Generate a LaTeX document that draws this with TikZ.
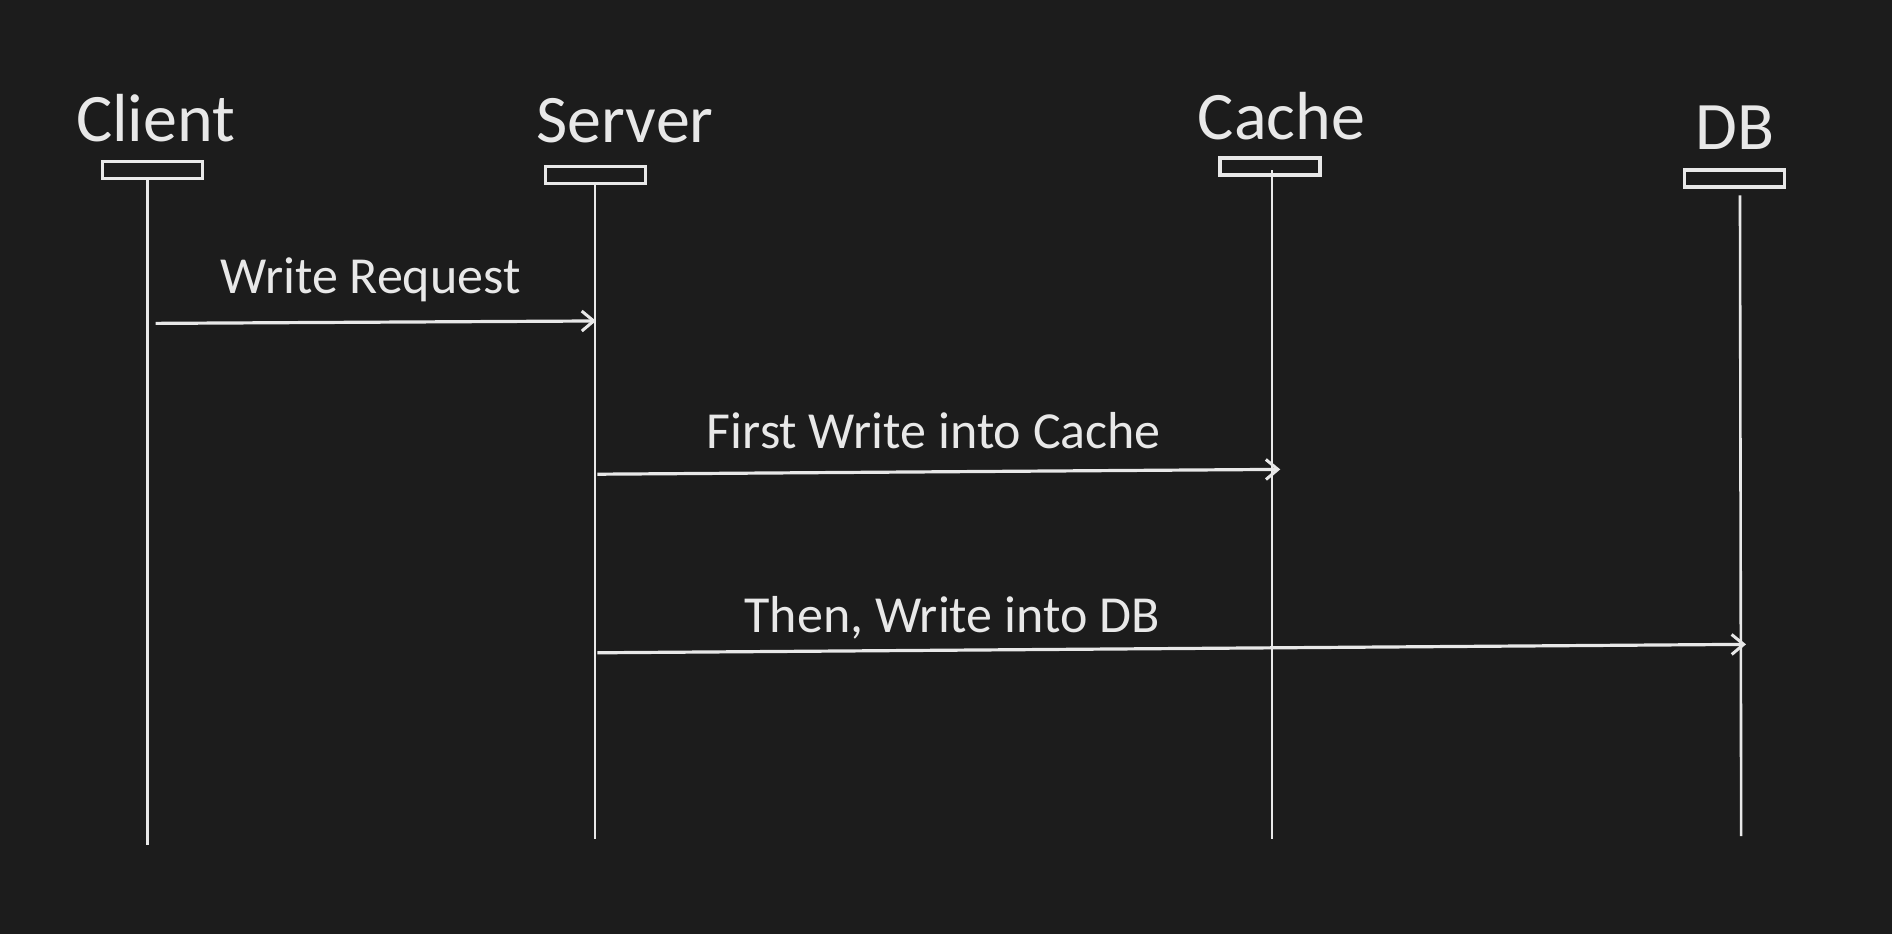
\documentclass[tikz,border=0pt]{standalone}
\usepackage{fontspec}
\setmainfont{Carlito}
\usetikzlibrary{arrows.meta}
\definecolor{bg}{HTML}{1C1C1C}
\definecolor{fg}{HTML}{E8E8E8}
\begin{document}
\begin{tikzpicture}[x=0.6033pt,y=-0.6033pt,
  headlabel/.style={text=fg,anchor=base,inner sep=0pt,font=\fontsize{34}{40}\selectfont},
  msglabel/.style={text=fg,anchor=base,inner sep=0pt,font=\fontsize{26}{32}\selectfont},
  headbox/.style={draw=fg,line width=1.7pt,minimum width=50pt,minimum height=8.5pt,inner sep=0pt},
  lifeline/.style={draw=fg,line width=1.3pt},
  msg/.style={draw=fg,line width=1.6pt,-{Straight Barb[length=6pt,width=10pt,line width=1.5pt]}}]
\fill[bg] (0,0) rectangle (1568,774);
\useasboundingbox (0,0) rectangle (1568,774);
% headings
\node[headlabel] (lClient) at (129,117) {Client};
\node[headlabel] (lServer) at (518,118) {Server};
\node[headlabel] (lCache) at (1062,116) {Cache};
\node[headlabel] (lDB) at (1438,124) {DB};
% head boxes
\node[headbox] (bClient) at (126.5,141) {};
\node[headbox] (bServer) at (493.5,145) {};
\node[headbox] (bCache) at (1052.5,138) {};
\node[headbox] (bDB) at (1437.5,148) {};
% lifelines
\coordinate (cTop) at (122,149);  \coordinate (cEnd) at (122,700);
\coordinate (sTop) at (493,153);  \coordinate (sEnd) at (493,695);
\coordinate (kTop) at (1054,141); \coordinate (kEnd) at (1054,695);
\coordinate (dTop) at (1442,162); \coordinate (dEnd) at (1443,693);
\draw[lifeline] (cTop) -- (cEnd);
\draw[lifeline] (sTop) -- (sEnd);
\draw[lifeline] (kTop) -- (kEnd);
\draw[lifeline] (dTop) -- (dEnd);
% messages
\coordinate (m1s) at (129,268);  \coordinate (m1e) at (494,266);
\coordinate (m2s) at (495,393);  \coordinate (m2e) at (1061,389);
\coordinate (m3s) at (495,541);  \coordinate (m3e) at (1447,534);
\draw[msg] (m1s) -- (m1e);
\draw[msg] (m2s) -- (m2e);
\draw[msg] (m3s) -- (m3e);
\node[msglabel] (t1) at (307,243) {Write Request};
\node[msglabel] (t2) at (774,372) {First Write into Cache};
\node[msglabel] (t3) at (789,524) {Then, Write into DB};
\end{tikzpicture}
\end{document}
